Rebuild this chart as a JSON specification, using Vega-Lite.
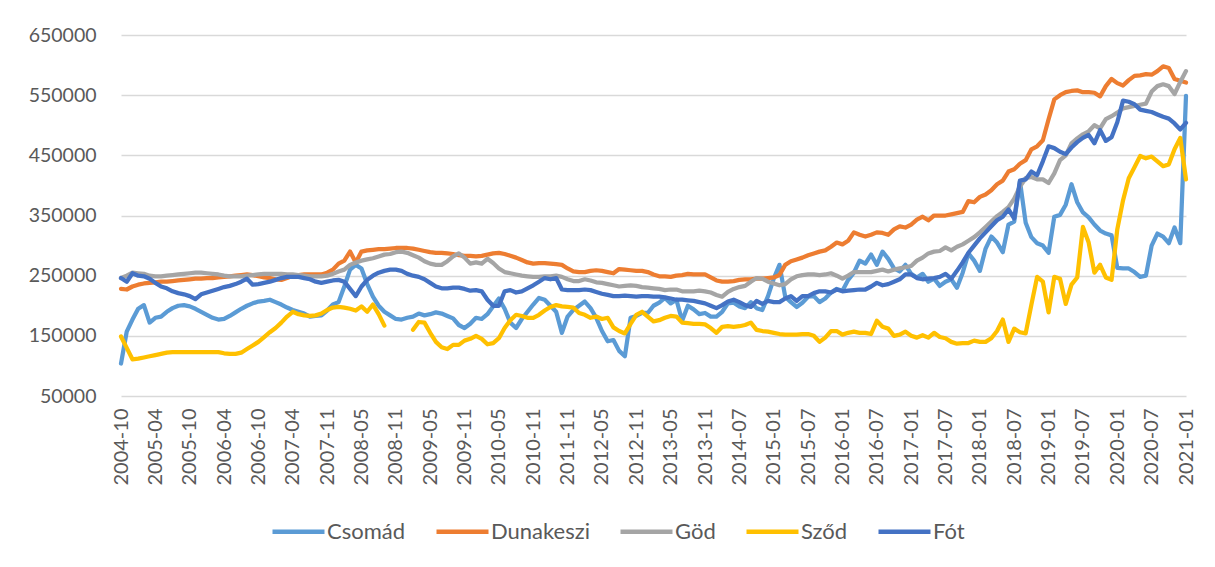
{
 "$schema": "https://vega.github.io/schema/vega-lite/v6.json",
 "width": 1065,
 "height": 361,
 "autosize": {"type": "none"},
 "padding": {"left": 121, "top": 35, "right": 29, "bottom": 171},
 "background": "white",
 "config": {"view": {"stroke": null}, "font": "Lato"},
 "data": {"values": [
{"m":"2004-10","Csomád":104000,"Dunakeszi":228000,"Göd":246000,"Sződ":149000,"Fót":246000},
{"m":"2004-11","Csomád":157000,"Dunakeszi":227000,"Göd":250000,"Sződ":130000,"Fót":240000},
{"m":"2004-12","Csomád":177000,"Dunakeszi":232000,"Göd":255000,"Sződ":111000,"Fót":254000},
{"m":"2005-01","Csomád":195000,"Dunakeszi":235000,"Göd":254000,"Sződ":112000,"Fót":250000},
{"m":"2005-02","Csomád":201000,"Dunakeszi":237000,"Göd":253000,"Sződ":114000,"Fót":249000},
{"m":"2005-03","Csomád":172000,"Dunakeszi":238000,"Göd":250000,"Sződ":116000,"Fót":245000},
{"m":"2005-04","Csomád":180000,"Dunakeszi":239000,"Göd":249000,"Sződ":118000,"Fót":238000},
{"m":"2005-05","Csomád":182000,"Dunakeszi":240000,"Göd":249000,"Sződ":120000,"Fót":232000},
{"m":"2005-06","Csomád":190000,"Dunakeszi":240000,"Göd":250000,"Sződ":122000,"Fót":229000},
{"m":"2005-07","Csomád":196000,"Dunakeszi":241000,"Göd":251000,"Sződ":123000,"Fót":224000},
{"m":"2005-08","Csomád":200000,"Dunakeszi":242000,"Göd":252000,"Sződ":123000,"Fót":221000},
{"m":"2005-09","Csomád":201000,"Dunakeszi":243000,"Göd":253000,"Sződ":123000,"Fót":219000},
{"m":"2005-10","Csomád":199000,"Dunakeszi":244000,"Göd":254000,"Sződ":123000,"Fót":216000},
{"m":"2005-11","Csomád":195000,"Dunakeszi":245000,"Göd":255000,"Sződ":123000,"Fót":211000},
{"m":"2005-12","Csomád":190000,"Dunakeszi":245000,"Göd":255000,"Sződ":123000,"Fót":219000},
{"m":"2006-01","Csomád":185000,"Dunakeszi":246000,"Göd":254000,"Sződ":123000,"Fót":222000},
{"m":"2006-02","Csomád":180000,"Dunakeszi":246000,"Göd":253000,"Sződ":123000,"Fót":225000},
{"m":"2006-03","Csomád":177000,"Dunakeszi":247000,"Göd":252000,"Sződ":123000,"Fót":228000},
{"m":"2006-04","Csomád":178000,"Dunakeszi":248000,"Göd":250000,"Sződ":121000,"Fót":231000},
{"m":"2006-05","Csomád":183000,"Dunakeszi":249000,"Göd":249000,"Sződ":120000,"Fót":233000},
{"m":"2006-06","Csomád":189000,"Dunakeszi":250000,"Göd":249000,"Sződ":120000,"Fót":236000},
{"m":"2006-07","Csomád":195000,"Dunakeszi":251000,"Göd":249000,"Sződ":122000,"Fót":240000},
{"m":"2006-08","Csomád":200000,"Dunakeszi":252000,"Göd":250000,"Sződ":128000,"Fót":245000},
{"m":"2006-09","Csomád":204000,"Dunakeszi":251000,"Göd":251000,"Sződ":134000,"Fót":235000},
{"m":"2006-10","Csomád":207000,"Dunakeszi":249000,"Göd":252000,"Sződ":140000,"Fót":236000},
{"m":"2006-11","Csomád":208000,"Dunakeszi":247000,"Göd":253000,"Sződ":148000,"Fót":238000},
{"m":"2006-12","Csomád":210000,"Dunakeszi":246000,"Göd":253000,"Sződ":156000,"Fót":240000},
{"m":"2007-01","Csomád":206000,"Dunakeszi":244000,"Göd":253000,"Sződ":163000,"Fót":243000},
{"m":"2007-02","Csomád":202000,"Dunakeszi":243000,"Göd":253000,"Sződ":172000,"Fót":246000},
{"m":"2007-03","Csomád":197000,"Dunakeszi":246000,"Göd":252000,"Sződ":182000,"Fót":248000},
{"m":"2007-04","Csomád":193000,"Dunakeszi":250000,"Göd":252000,"Sződ":190000,"Fót":248000},
{"m":"2007-05","Csomád":190000,"Dunakeszi":251000,"Göd":251000,"Sződ":186000,"Fót":248000},
{"m":"2007-06","Csomád":187000,"Dunakeszi":252000,"Göd":250000,"Sződ":184000,"Fót":246000},
{"m":"2007-07","Csomád":182000,"Dunakeszi":252000,"Göd":249000,"Sződ":183000,"Fót":244000},
{"m":"2007-09","Csomád":183000,"Dunakeszi":252000,"Göd":249000,"Sződ":184000,"Fót":240000},
{"m":"2007-10","Csomád":184000,"Dunakeszi":252000,"Göd":249000,"Sződ":187000,"Fót":238000},
{"m":"2007-11","Csomád":192000,"Dunakeszi":255000,"Göd":250000,"Sződ":193000,"Fót":240000},
{"m":"2007-12","Csomád":202000,"Dunakeszi":260000,"Göd":253000,"Sződ":197000,"Fót":242000},
{"m":"2008-01","Csomád":206000,"Dunakeszi":270000,"Göd":257000,"Sződ":198000,"Fót":243000},
{"m":"2008-02","Csomád":232000,"Dunakeszi":275000,"Göd":260000,"Sződ":197000,"Fót":240000},
{"m":"2008-03","Csomád":260000,"Dunakeszi":290000,"Göd":268000,"Sződ":195000,"Fót":228000},
{"m":"2008-04","Csomád":268000,"Dunakeszi":272000,"Göd":272000,"Sződ":192000,"Fót":216000},
{"m":"2008-05","Csomád":262000,"Dunakeszi":290000,"Göd":275000,"Sződ":199000,"Fót":232000},
{"m":"2008-06","Csomád":236000,"Dunakeszi":292000,"Göd":277000,"Sződ":190000,"Fót":243000},
{"m":"2008-07","Csomád":215000,"Dunakeszi":293000,"Göd":279000,"Sződ":202000,"Fót":250000},
{"m":"2008-08","Csomád":200000,"Dunakeszi":294000,"Göd":282000,"Sződ":186000,"Fót":255000},
{"m":"2008-09","Csomád":190000,"Dunakeszi":294000,"Göd":285000,"Sződ":167000,"Fót":258000},
{"m":"2008-10","Csomád":184000,"Dunakeszi":295000,"Göd":286000,"Sződ":null,"Fót":260000},
{"m":"2008-11","Csomád":178000,"Dunakeszi":296000,"Göd":289000,"Sződ":null,"Fót":260000},
{"m":"2008-12","Csomád":177000,"Dunakeszi":296000,"Göd":290000,"Sződ":null,"Fót":258000},
{"m":"2009-01","Csomád":180000,"Dunakeszi":296000,"Göd":288000,"Sződ":null,"Fót":253000},
{"m":"2009-02","Csomád":182000,"Dunakeszi":295000,"Göd":284000,"Sződ":160000,"Fót":250000},
{"m":"2009-03","Csomád":187000,"Dunakeszi":293000,"Göd":280000,"Sződ":173000,"Fót":248000},
{"m":"2009-04","Csomád":184000,"Dunakeszi":291000,"Göd":274000,"Sződ":172000,"Fót":244000},
{"m":"2009-05","Csomád":186000,"Dunakeszi":289000,"Göd":270000,"Sződ":155000,"Fót":238000},
{"m":"2009-06","Csomád":189000,"Dunakeszi":288000,"Göd":268000,"Sződ":140000,"Fót":232000},
{"m":"2009-07","Csomád":187000,"Dunakeszi":288000,"Göd":268000,"Sződ":131000,"Fót":229000},
{"m":"2009-08","Csomád":183000,"Dunakeszi":287000,"Göd":274000,"Sződ":128000,"Fót":229000},
{"m":"2009-09","Csomád":179000,"Dunakeszi":286000,"Göd":282000,"Sződ":135000,"Fót":230000},
{"m":"2009-10","Csomád":168000,"Dunakeszi":284000,"Göd":287000,"Sződ":135000,"Fót":230000},
{"m":"2009-11","Csomád":163000,"Dunakeszi":283000,"Göd":280000,"Sződ":142000,"Fót":228000},
{"m":"2009-12","Csomád":170000,"Dunakeszi":283000,"Göd":270000,"Sződ":145000,"Fót":225000},
{"m":"2010-01","Csomád":180000,"Dunakeszi":282000,"Göd":272000,"Sződ":150000,"Fót":226000},
{"m":"2010-02","Csomád":178000,"Dunakeszi":283000,"Göd":270000,"Sződ":145000,"Fót":224000},
{"m":"2010-03","Csomád":186000,"Dunakeszi":285000,"Göd":278000,"Sződ":136000,"Fót":210000},
{"m":"2010-04","Csomád":199000,"Dunakeszi":287000,"Göd":271000,"Sződ":138000,"Fót":200000},
{"m":"2010-05","Csomád":212000,"Dunakeszi":288000,"Göd":262000,"Sződ":146000,"Fót":200000},
{"m":"2010-06","Csomád":195000,"Dunakeszi":286000,"Göd":256000,"Sződ":163000,"Fót":224000},
{"m":"2010-07","Csomád":172000,"Dunakeszi":283000,"Göd":254000,"Sződ":176000,"Fót":226000},
{"m":"2010-08","Csomád":163000,"Dunakeszi":280000,"Göd":252000,"Sződ":185000,"Fót":222000},
{"m":"2010-09","Csomád":178000,"Dunakeszi":276000,"Göd":250000,"Sződ":183000,"Fót":224000},
{"m":"2010-10","Csomád":190000,"Dunakeszi":272000,"Göd":249000,"Sződ":180000,"Fót":229000},
{"m":"2010-11","Csomád":202000,"Dunakeszi":270000,"Göd":248000,"Sződ":180000,"Fót":234000},
{"m":"2011-01","Csomád":213000,"Dunakeszi":271000,"Göd":248000,"Sződ":185000,"Fót":240000},
{"m":"2011-03","Csomád":210000,"Dunakeszi":271000,"Göd":249000,"Sződ":192000,"Fót":246000},
{"m":"2011-05","Csomád":200000,"Dunakeszi":270000,"Göd":249000,"Sződ":198000,"Fót":244000},
{"m":"2011-07","Csomád":190000,"Dunakeszi":269000,"Göd":250000,"Sződ":201000,"Fót":246000},
{"m":"2011-09","Csomád":155000,"Dunakeszi":268000,"Göd":248000,"Sződ":199000,"Fót":227000},
{"m":"2011-11","Csomád":182000,"Dunakeszi":262000,"Göd":244000,"Sződ":198000,"Fót":226000},
{"m":"2011-12","Csomád":193000,"Dunakeszi":257000,"Göd":241000,"Sződ":197000,"Fót":226000},
{"m":"2012-01","Csomád":200000,"Dunakeszi":256000,"Göd":241000,"Sződ":188000,"Fót":226000},
{"m":"2012-02","Csomád":207000,"Dunakeszi":256000,"Göd":244000,"Sződ":185000,"Fót":227000},
{"m":"2012-03","Csomád":196000,"Dunakeszi":258000,"Göd":242000,"Sződ":180000,"Fót":226000},
{"m":"2012-04","Csomád":180000,"Dunakeszi":259000,"Göd":239000,"Sződ":182000,"Fót":223000},
{"m":"2012-05","Csomád":158000,"Dunakeszi":258000,"Göd":238000,"Sződ":178000,"Fót":220000},
{"m":"2012-06","Csomád":141000,"Dunakeszi":256000,"Göd":236000,"Sződ":180000,"Fót":218000},
{"m":"2012-07","Csomád":143000,"Dunakeszi":254000,"Göd":234000,"Sződ":164000,"Fót":216000},
{"m":"2012-08","Csomád":125000,"Dunakeszi":261000,"Göd":232000,"Sződ":158000,"Fót":216000},
{"m":"2012-09","Csomád":116000,"Dunakeszi":260000,"Göd":233000,"Sződ":154000,"Fót":217000},
{"m":"2012-10","Csomád":180000,"Dunakeszi":259000,"Göd":234000,"Sződ":170000,"Fót":216000},
{"m":"2012-11","Csomád":183000,"Dunakeszi":258000,"Göd":233000,"Sződ":185000,"Fót":215000},
{"m":"2012-12","Csomád":188000,"Dunakeszi":258000,"Göd":231000,"Sződ":190000,"Fót":216000},
{"m":"2013-01","Csomád":188000,"Dunakeszi":256000,"Göd":230000,"Sződ":182000,"Fót":216000},
{"m":"2013-02","Csomád":200000,"Dunakeszi":252000,"Göd":229000,"Sződ":174000,"Fót":215000},
{"m":"2013-03","Csomád":205000,"Dunakeszi":249000,"Göd":228000,"Sződ":176000,"Fót":215000},
{"m":"2013-04","Csomád":213000,"Dunakeszi":249000,"Göd":226000,"Sződ":180000,"Fót":214000},
{"m":"2013-05","Csomád":204000,"Dunakeszi":248000,"Göd":227000,"Sződ":183000,"Fót":212000},
{"m":"2013-06","Csomád":210000,"Dunakeszi":250000,"Göd":227000,"Sződ":182000,"Fót":210000},
{"m":"2013-07","Csomád":175000,"Dunakeszi":251000,"Göd":224000,"Sződ":172000,"Fót":210000},
{"m":"2013-08","Csomád":200000,"Dunakeszi":253000,"Göd":224000,"Sződ":171000,"Fót":209000},
{"m":"2013-09","Csomád":194000,"Dunakeszi":252000,"Göd":224000,"Sződ":170000,"Fót":208000},
{"m":"2013-10","Csomád":186000,"Dunakeszi":252000,"Göd":225000,"Sződ":170000,"Fót":206000},
{"m":"2013-11","Csomád":188000,"Dunakeszi":252000,"Göd":224000,"Sződ":169000,"Fót":204000},
{"m":"2013-12","Csomád":182000,"Dunakeszi":247000,"Göd":222000,"Sződ":163000,"Fót":200000},
{"m":"2014-03","Csomád":182000,"Dunakeszi":242000,"Göd":218000,"Sződ":155000,"Fót":196000},
{"m":"2014-04","Csomád":190000,"Dunakeszi":240000,"Göd":215000,"Sződ":165000,"Fót":201000},
{"m":"2014-05","Csomád":204000,"Dunakeszi":240000,"Göd":223000,"Sződ":166000,"Fót":207000},
{"m":"2014-06","Csomád":205000,"Dunakeszi":241000,"Göd":228000,"Sződ":165000,"Fót":210000},
{"m":"2014-07","Csomád":199000,"Dunakeszi":243000,"Göd":231000,"Sződ":166000,"Fót":206000},
{"m":"2014-08","Csomád":196000,"Dunakeszi":244000,"Göd":233000,"Sződ":168000,"Fót":201000},
{"m":"2014-09","Csomád":206000,"Dunakeszi":244000,"Göd":240000,"Sződ":172000,"Fót":198000},
{"m":"2014-10","Csomád":196000,"Dunakeszi":245000,"Göd":246000,"Sződ":160000,"Fót":208000},
{"m":"2014-11","Csomád":193000,"Dunakeszi":245000,"Göd":245000,"Sződ":158000,"Fót":203000},
{"m":"2014-12","Csomád":216000,"Dunakeszi":246000,"Göd":240000,"Sződ":157000,"Fót":208000},
{"m":"2015-01","Csomád":245000,"Dunakeszi":247000,"Göd":237000,"Sződ":155000,"Fót":206000},
{"m":"2015-02","Csomád":268000,"Dunakeszi":251000,"Göd":234000,"Sződ":153000,"Fót":206000},
{"m":"2015-03","Csomád":215000,"Dunakeszi":268000,"Göd":236000,"Sződ":152000,"Fót":212000},
{"m":"2015-04","Csomád":206000,"Dunakeszi":274000,"Göd":244000,"Sződ":152000,"Fót":216000},
{"m":"2015-05","Csomád":198000,"Dunakeszi":277000,"Göd":249000,"Sződ":152000,"Fót":208000},
{"m":"2015-06","Csomád":205000,"Dunakeszi":280000,"Göd":251000,"Sződ":153000,"Fót":216000},
{"m":"2015-07","Csomád":215000,"Dunakeszi":284000,"Göd":252000,"Sződ":153000,"Fót":216000},
{"m":"2015-08","Csomád":216000,"Dunakeszi":287000,"Göd":252000,"Sződ":150000,"Fót":221000},
{"m":"2015-09","Csomád":206000,"Dunakeszi":290000,"Göd":251000,"Sződ":140000,"Fót":224000},
{"m":"2015-10","Csomád":212000,"Dunakeszi":292000,"Göd":252000,"Sződ":147000,"Fót":224000},
{"m":"2015-11","Csomád":222000,"Dunakeszi":298000,"Göd":254000,"Sződ":158000,"Fót":222000},
{"m":"2015-12","Csomád":228000,"Dunakeszi":305000,"Göd":250000,"Sződ":158000,"Fót":227000},
{"m":"2016-01","Csomád":225000,"Dunakeszi":302000,"Göd":245000,"Sződ":152000,"Fót":224000},
{"m":"2016-02","Csomád":243000,"Dunakeszi":308000,"Göd":250000,"Sződ":155000,"Fót":225000},
{"m":"2016-03","Csomád":255000,"Dunakeszi":322000,"Göd":256000,"Sződ":157000,"Fót":226000},
{"m":"2016-04","Csomád":275000,"Dunakeszi":318000,"Göd":256000,"Sződ":155000,"Fót":227000},
{"m":"2016-05","Csomád":270000,"Dunakeszi":315000,"Göd":256000,"Sződ":155000,"Fót":227000},
{"m":"2016-06","Csomád":285000,"Dunakeszi":318000,"Göd":256000,"Sződ":153000,"Fót":232000},
{"m":"2016-07","Csomád":268000,"Dunakeszi":322000,"Göd":258000,"Sződ":175000,"Fót":238000},
{"m":"2016-08","Csomád":290000,"Dunakeszi":321000,"Göd":260000,"Sződ":165000,"Fót":234000},
{"m":"2016-09","Csomád":278000,"Dunakeszi":318000,"Göd":257000,"Sződ":162000,"Fót":236000},
{"m":"2016-10","Csomád":262000,"Dunakeszi":327000,"Göd":260000,"Sződ":150000,"Fót":240000},
{"m":"2016-11","Csomád":257000,"Dunakeszi":332000,"Göd":262000,"Sződ":152000,"Fót":244000},
{"m":"2016-12","Csomád":268000,"Dunakeszi":330000,"Göd":264000,"Sződ":157000,"Fót":252000},
{"m":"2017-01","Csomád":253000,"Dunakeszi":335000,"Göd":266000,"Sződ":150000,"Fót":252000},
{"m":"2017-02","Csomád":247000,"Dunakeszi":343000,"Göd":275000,"Sződ":147000,"Fót":246000},
{"m":"2017-03","Csomád":253000,"Dunakeszi":348000,"Göd":280000,"Sződ":151000,"Fót":244000},
{"m":"2017-04","Csomád":240000,"Dunakeszi":342000,"Göd":287000,"Sződ":147000,"Fót":245000},
{"m":"2017-05","Csomád":245000,"Dunakeszi":350000,"Göd":290000,"Sződ":155000,"Fót":246000},
{"m":"2017-06","Csomád":233000,"Dunakeszi":350000,"Göd":291000,"Sződ":148000,"Fót":248000},
{"m":"2017-07","Csomád":240000,"Dunakeszi":350000,"Göd":297000,"Sződ":146000,"Fót":253000},
{"m":"2017-08","Csomád":244000,"Dunakeszi":352000,"Göd":292000,"Sződ":140000,"Fót":245000},
{"m":"2017-09","Csomád":230000,"Dunakeszi":354000,"Göd":298000,"Sződ":137000,"Fót":258000},
{"m":"2017-10","Csomád":255000,"Dunakeszi":356000,"Göd":302000,"Sződ":138000,"Fót":272000},
{"m":"2017-11","Csomád":287000,"Dunakeszi":374000,"Göd":308000,"Sződ":138000,"Fót":288000},
{"m":"2017-12","Csomád":275000,"Dunakeszi":372000,"Göd":314000,"Sződ":142000,"Fót":300000},
{"m":"2018-01","Csomád":258000,"Dunakeszi":381000,"Göd":322000,"Sződ":140000,"Fót":312000},
{"m":"2018-02","Csomád":295000,"Dunakeszi":385000,"Göd":331000,"Sződ":140000,"Fót":322000},
{"m":"2018-03","Csomád":315000,"Dunakeszi":392000,"Göd":340000,"Sződ":146000,"Fót":332000},
{"m":"2018-04","Csomád":305000,"Dunakeszi":402000,"Göd":349000,"Sződ":158000,"Fót":342000},
{"m":"2018-05","Csomád":289000,"Dunakeszi":408000,"Göd":356000,"Sződ":177000,"Fót":348000},
{"m":"2018-06","Csomád":335000,"Dunakeszi":423000,"Göd":364000,"Sződ":140000,"Fót":360000},
{"m":"2018-07","Csomád":340000,"Dunakeszi":427000,"Göd":378000,"Sződ":162000,"Fót":345000},
{"m":"2018-08","Csomád":407000,"Dunakeszi":436000,"Göd":398000,"Sződ":156000,"Fót":408000},
{"m":"2018-09","Csomád":338000,"Dunakeszi":442000,"Göd":412000,"Sződ":154000,"Fót":410000},
{"m":"2018-10","Csomád":314000,"Dunakeszi":460000,"Göd":414000,"Sződ":202000,"Fót":423000},
{"m":"2018-11","Csomád":304000,"Dunakeszi":465000,"Göd":410000,"Sződ":248000,"Fót":417000},
{"m":"2018-12","Csomád":300000,"Dunakeszi":475000,"Göd":410000,"Sződ":240000,"Fót":440000},
{"m":"2019-01","Csomád":288000,"Dunakeszi":510000,"Göd":404000,"Sződ":189000,"Fót":465000},
{"m":"2019-02","Csomád":348000,"Dunakeszi":543000,"Göd":420000,"Sződ":248000,"Fót":462000},
{"m":"2019-03","Csomád":351000,"Dunakeszi":550000,"Göd":442000,"Sződ":245000,"Fót":456000},
{"m":"2019-04","Csomád":368000,"Dunakeszi":555000,"Göd":450000,"Sződ":203000,"Fót":452000},
{"m":"2019-05","Csomád":402000,"Dunakeszi":557000,"Göd":470000,"Sződ":235000,"Fót":463000},
{"m":"2019-06","Csomád":372000,"Dunakeszi":558000,"Göd":478000,"Sződ":247000,"Fót":472000},
{"m":"2019-07","Csomád":355000,"Dunakeszi":555000,"Göd":485000,"Sződ":331000,"Fót":479000},
{"m":"2019-08","Csomád":347000,"Dunakeszi":555000,"Göd":490000,"Sződ":305000,"Fót":484000},
{"m":"2019-09","Csomád":335000,"Dunakeszi":554000,"Göd":500000,"Sződ":255000,"Fót":470000},
{"m":"2019-10","Csomád":325000,"Dunakeszi":548000,"Göd":495000,"Sződ":268000,"Fót":492000},
{"m":"2019-11","Csomád":320000,"Dunakeszi":565000,"Göd":510000,"Sződ":247000,"Fót":474000},
{"m":"2019-12","Csomád":317000,"Dunakeszi":577000,"Göd":515000,"Sződ":243000,"Fót":480000},
{"m":"2020-01","Csomád":263000,"Dunakeszi":570000,"Göd":521000,"Sződ":327000,"Fót":505000},
{"m":"2020-02","Csomád":262000,"Dunakeszi":566000,"Göd":528000,"Sződ":375000,"Fót":541000},
{"m":"2020-03","Csomád":262000,"Dunakeszi":575000,"Göd":530000,"Sződ":412000,"Fót":539000},
{"m":"2020-04","Csomád":256000,"Dunakeszi":582000,"Göd":532000,"Sződ":430000,"Fót":535000},
{"m":"2020-05","Csomád":248000,"Dunakeszi":583000,"Göd":534000,"Sződ":449000,"Fót":526000},
{"m":"2020-06","Csomád":250000,"Dunakeszi":585000,"Göd":536000,"Sződ":445000,"Fót":524000},
{"m":"2020-07","Csomád":300000,"Dunakeszi":584000,"Göd":556000,"Sződ":448000,"Fót":522000},
{"m":"2020-08","Csomád":320000,"Dunakeszi":590000,"Göd":565000,"Sződ":440000,"Fót":518000},
{"m":"2020-09","Csomád":315000,"Dunakeszi":598000,"Göd":568000,"Sződ":432000,"Fót":514000},
{"m":"2020-10","Csomád":304000,"Dunakeszi":595000,"Göd":565000,"Sződ":435000,"Fót":511000},
{"m":"2020-11","Csomád":330000,"Dunakeszi":577000,"Göd":552000,"Sződ":460000,"Fót":503000},
{"m":"2020-12","Csomád":304000,"Dunakeszi":574000,"Göd":572000,"Sződ":479000,"Fót":493000},
{"m":"2021-01","Csomád":549000,"Dunakeszi":571000,"Göd":590000,"Sződ":410000,"Fót":504000}
 ]},
 "transform": [{"fold": ["Csomád", "Dunakeszi", "Göd", "Sződ", "Fót"], "as": ["series", "value"]}],
 "mark": {"type": "line", "strokeWidth": 4.25, "strokeCap": "round", "strokeJoin": "round", "invalid": "break-paths-filter-domains"},
 "encoding": {
  "x": {"field": "m", "type": "ordinal", "scale": {"type": "point", "padding": 0},
   "axis": {"values": ["2004-10","2005-04","2005-10","2006-04","2006-10","2007-04","2007-11","2008-05","2008-11","2009-05","2009-11","2010-05","2010-11","2011-11","2012-05","2012-11","2013-05","2013-11","2014-07","2015-01","2015-07","2016-01","2016-07","2017-01","2017-07","2018-01","2018-07","2019-01","2019-07","2020-01","2020-07","2021-01"],
    "labelAngle": -90, "ticks": false, "domain": false, "grid": false, "title": null,
    "labelFont": "Lato", "labelFontSize": 20, "labelColor": "#595959", "labelPadding": 12}},
  "y": {"field": "value", "type": "quantitative", "scale": {"domain": [50000, 650000], "nice": false, "zero": false},
   "axis": {"values": [50000,150000,250000,350000,450000,550000,650000], "format": "d", "title": null, "ticks": false, "domain": false,
    "grid": true, "gridColor": "#D9D9D9", "gridWidth": 1.3,
    "labelFont": "Lato", "labelFontSize": 19.5, "labelColor": "#595959", "labelPadding": 25}},
  "color": {"field": "series", "type": "nominal",
   "scale": {"domain": ["Csomád", "Dunakeszi", "Göd", "Sződ", "Fót"], "range": ["#5B9BD5", "#ED7D31", "#A5A5A5", "#FFC000", "#4472C4"]},
   "legend": {"title": null, "orient": "none", "direction": "horizontal", "legendX": 149, "legendY": 468,
    "symbolType": "stroke", "symbolSize": 2704, "symbolStrokeWidth": 4.5, "labelFont": "Lato", "labelFontSize": 22,
    "labelColor": "#595959", "labelOffset": 0, "columnPadding": 21}}
 }
}
